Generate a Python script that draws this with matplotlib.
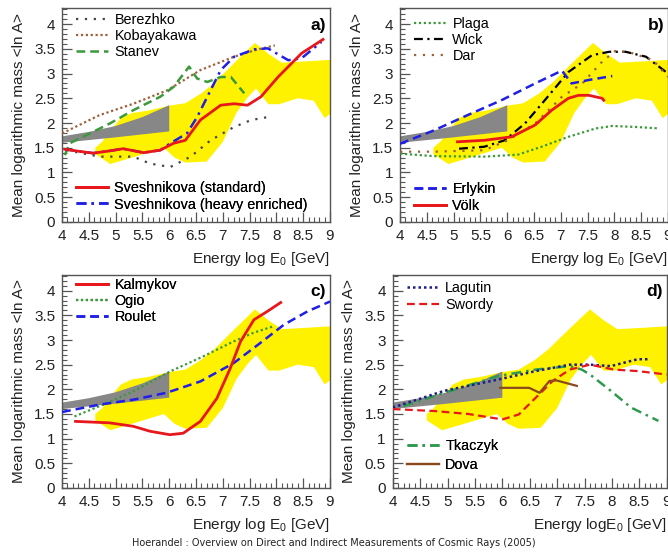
import matplotlib
matplotlib.use("Agg")
import matplotlib.pyplot as plt
from matplotlib.ticker import MultipleLocator, FuncFormatter

plt.rcParams['font.family'] = ['Liberation Sans', 'DejaVu Sans']
plt.rcParams['mathtext.default'] = 'regular'

# experimental band of <ln A> (same in all four panels)
band_up_x = [4.62, 4.75, 4.9, 5.1, 5.3, 5.6, 6.0, 6.3, 6.6, 6.85, 7.2, 7.6, 7.85, 8.1, 8.6, 9.05]
band_up_y = [1.5, 1.62, 1.85, 2.1, 2.2, 2.25, 2.35, 2.4, 2.6, 2.82, 3.2, 3.62, 3.4, 3.22, 3.25, 3.28]
band_lo_x = [9.05, 8.9, 8.7, 8.4, 8.05, 7.85, 7.62, 7.45, 7.25, 7.0, 6.7, 6.3, 6.1, 5.9, 5.3, 4.9, 4.62]
band_lo_y = [2.22, 2.1, 2.45, 2.5, 2.38, 2.38, 2.7, 2.5, 2.2, 1.62, 1.22, 1.2, 1.3, 1.5, 1.3, 1.17, 1.37]

# direct measurements (gray region)
direct_up_x = [4.0, 4.5, 5.0, 5.5, 6.0]
direct_up_y = [1.73, 1.82, 1.94, 2.12, 2.36]
direct_lo_x = [6.0, 5.0, 4.0]
direct_lo_y = [1.83, 1.71, 1.6]

# a) models
berezhko_x = [4.08, 4.7, 5.33, 5.64, 6.02, 6.4, 6.77, 7.21, 7.53, 7.84]
berezhko_y = [1.45, 1.32, 1.32, 1.18, 1.11, 1.32, 1.65, 1.92, 2.06, 2.12]
kobayakawa_x = [4.0, 4.7, 5.33, 5.96, 6.58, 7.21, 7.59, 7.97]
kobayakawa_y = [1.79, 2.16, 2.39, 2.66, 3.07, 3.34, 3.47, 3.57]
stanev_x = [4.05, 4.14, 4.39, 4.89, 5.33, 5.83, 6.08, 6.37, 6.52, 6.71, 6.96, 7.15, 7.4]
stanev_y = [1.35, 1.59, 1.72, 1.99, 2.26, 2.53, 2.73, 3.14, 2.9, 2.83, 2.93, 2.93, 2.6]
svesh_std_x = [4.05, 4.3, 4.58, 4.85, 5.14, 5.52, 5.83, 6.08, 6.3, 6.58, 6.96, 7.21, 7.46, 7.71, 8.03, 8.47, 8.87]
svesh_std_y = [1.47, 1.43, 1.39, 1.43, 1.48, 1.4, 1.45, 1.59, 1.65, 2.06, 2.36, 2.39, 2.36, 2.53, 2.93, 3.41, 3.69]
svesh_heavy_x = [4.05, 4.3, 4.58, 4.85, 5.14, 5.52, 5.83, 6.02, 6.33, 6.52, 6.71, 6.96, 7.21, 7.59, 7.84, 8.22, 8.47, 8.84]
svesh_heavy_y = [1.47, 1.43, 1.39, 1.43, 1.48, 1.4, 1.45, 1.59, 1.79, 2.12, 2.53, 3.07, 3.34, 3.49, 3.51, 3.27, 3.31, 3.64]

# b) models
plaga_x = [4.0, 4.63, 5.57, 6.2, 6.64, 7.14, 7.65, 7.96, 8.4, 8.84]
plaga_y = [1.38, 1.33, 1.32, 1.36, 1.52, 1.72, 1.89, 1.94, 1.92, 1.89]
wick_x = [5.1, 5.57, 5.95, 6.33, 6.7, 7.14, 7.58, 7.9, 8.21, 8.59, 9.0]
wick_y = [1.48, 1.52, 1.65, 1.99, 2.46, 3.03, 3.37, 3.44, 3.44, 3.34, 3.0]
dar_x = [4.0, 4.63, 5.57, 6.01, 6.52, 7.02, 7.4, 7.77, 8.03, 8.34, 8.72, 9.0]
dar_y = [1.42, 1.42, 1.45, 1.65, 1.99, 2.53, 2.8, 3.24, 3.47, 3.41, 3.27, 2.93]
erlykin_x = [4.0, 4.63, 5.26, 5.89, 6.52, 7.02, 7.2, 7.52, 7.96]
erlykin_y = [1.58, 1.85, 2.16, 2.46, 2.8, 3.06, 2.8, 2.87, 2.95]
voelk_x = [5.07, 5.57, 6.08, 6.52, 6.83, 7.14, 7.33, 7.52, 7.77, 7.8]
voelk_y = [1.62, 1.65, 1.72, 1.96, 2.26, 2.5, 2.56, 2.56, 2.5, 2.46]

# c) models
kalmykov_x = [4.25, 4.89, 5.33, 5.64, 6.01, 6.26, 6.58, 6.89, 7.14, 7.33, 7.58, 7.83, 8.08]
kalmykov_y = [1.35, 1.32, 1.25, 1.15, 1.08, 1.11, 1.35, 1.82, 2.43, 2.97, 3.41, 3.58, 3.76]
ogio_x = [4.23, 4.7, 5.33, 6.01, 6.58, 7.2, 7.58, 7.95]
ogio_y = [1.45, 1.66, 1.96, 2.36, 2.64, 2.97, 3.15, 3.28]
roulet_x = [4.0, 4.7, 5.33, 5.95, 6.58, 7.2, 7.7, 8.14, 8.58, 9.0]
roulet_y = [1.54, 1.69, 1.79, 1.93, 2.16, 2.53, 2.94, 3.31, 3.58, 3.78]

# d) models
lagutin_x = [4.0, 4.94, 5.93, 6.61, 7.23, 7.6, 7.98, 8.47, 8.66]
lagutin_y = [1.63, 1.97, 2.2, 2.37, 2.5, 2.5, 2.47, 2.61, 2.61]
swordy_x = [4.0, 4.76, 5.38, 6.0, 6.3, 6.61, 6.92, 7.23, 7.6, 8.04, 8.47, 9.0]
swordy_y = [1.6, 1.56, 1.5, 1.39, 1.49, 1.83, 2.17, 2.4, 2.5, 2.4, 2.37, 2.3]
tkaczyk_x = [4.2, 4.94, 5.93, 6.61, 7.23, 7.45, 7.6, 7.98, 8.35, 8.85]
tkaczyk_y = [1.66, 1.93, 2.27, 2.4, 2.47, 2.4, 2.3, 1.97, 1.63, 1.36]
dova_x = [5.96, 6.49, 6.68, 6.86, 6.99, 7.36]
dova_y = [2.03, 2.03, 1.93, 2.17, 2.18, 2.07]

RED = '#e8171c'
BLUE = '#1f1fe6'
GREEN = '#3a9a3a'
BROWN = '#a0603a'
FRAME = '#555555'


def base_axes(rect, tag, xlabel):
    ax = fig.add_axes(rect)
    ax.fill(band_up_x + band_lo_x, band_up_y + band_lo_y, color='#fff200', lw=0, zorder=1)
    ax.fill(direct_up_x + direct_lo_x, direct_up_y + direct_lo_y, color='#878787', lw=0, zorder=2)
    ax.set_xlim(4, 9)
    ax.set_ylim(0, 4.32)
    ax.xaxis.set_major_locator(MultipleLocator(0.5))
    ax.xaxis.set_minor_locator(MultipleLocator(0.1))
    ax.yaxis.set_major_locator(MultipleLocator(0.5))
    ax.yaxis.set_minor_locator(MultipleLocator(0.1))
    fmt = FuncFormatter(lambda v, p: '%g' % v)
    ax.xaxis.set_major_formatter(fmt)
    ax.yaxis.set_major_formatter(fmt)
    ax.tick_params(which='both', direction='in', colors=FRAME, labelcolor='#222222',
                   labelsize=11, top=False, right=False)
    ax.tick_params(which='major', length=7, width=0.9, pad=5)
    ax.tick_params(which='minor', length=3.5, width=0.8)
    for s in ax.spines.values():
        s.set_color(FRAME)
        s.set_linewidth(1.0)
    ax.set_ylabel('Mean logarithmic mass <ln A>', fontsize=11, color='#222222', labelpad=6)
    ax.set_xlabel(xlabel, fontsize=11, color='#222222', loc='right', labelpad=5)
    ax.text(0.985, 0.955, tag, transform=ax.transAxes, ha='right', va='top',
            fontsize=12.5, fontweight='bold')
    return ax


def add_legend(ax, handles, loc, anchor, spacing=0.15):
    leg = ax.legend(handles=handles, loc=loc, bbox_to_anchor=anchor, frameon=False,
                    fontsize=10.4, handlelength=2.2, handletextpad=0.45,
                    labelspacing=spacing, borderaxespad=0.2)
    ax.add_artist(leg)


fig = plt.figure(figsize=(6.68, 5.52), dpi=100)

xl = 'Energy log E$_0$ [GeV]'

# a)
ax = base_axes([0.093, 0.598, 0.401, 0.387], 'a)', xl)
h1 = ax.plot(berezhko_x, berezhko_y, ls=(0, (1, 3)), color='#444444', lw=1.6, zorder=3, label='Berezhko')[0]
h2 = ax.plot(kobayakawa_x, kobayakawa_y, ls=(0, (1, 1.2)), color=BROWN, lw=1.6, zorder=3, label='Kobayakawa')[0]
h3 = ax.plot(stanev_x, stanev_y, ls=(0, (3.5, 2)), color=GREEN, lw=1.8, zorder=3, label='Stanev')[0]
h5 = ax.plot(svesh_heavy_x, svesh_heavy_y, ls=(0, (4, 2, 1, 2)), color=BLUE, lw=1.8, zorder=4,
             label='Sveshnikova (heavy enriched)')[0]
h4 = ax.plot(svesh_std_x, svesh_std_y, color=RED, lw=2.0, zorder=5, label='Sveshnikova (standard)')[0]
add_legend(ax, [h1, h2, h3], 'upper left', (0.02, 1.02))
add_legend(ax, [h4, h5], 'lower left', (0.02, 0.008))

# b)
ax = base_axes([0.599, 0.598, 0.401, 0.387], 'b)', xl)
h1 = ax.plot(plaga_x, plaga_y, ls=(0, (1, 1.2)), color=GREEN, lw=1.6, zorder=3, label='Plaga')[0]
h2 = ax.plot(wick_x, wick_y, ls=(0, (4, 2, 1, 2)), color='black', lw=1.6, zorder=3, label='Wick')[0]
h3 = ax.plot(dar_x, dar_y, ls=(0, (1, 3)), color=BROWN, lw=1.6, zorder=3, label='Dar')[0]
h4 = ax.plot(erlykin_x, erlykin_y, ls=(0, (3.5, 2)), color=BLUE, lw=1.8, zorder=4, label='Erlykin')[0]
h5 = ax.plot(voelk_x, voelk_y, color=RED, lw=2.0, zorder=5, label='Völk')[0]
add_legend(ax, [h1, h2, h3], 'upper left', (0.02, 1.0))
add_legend(ax, [h4, h5], 'lower left', (0.02, 0.003))

# c)
ax = base_axes([0.093, 0.116, 0.401, 0.386], 'c)', xl)
h1 = ax.plot(kalmykov_x, kalmykov_y, color=RED, lw=2.0, zorder=5, label='Kalmykov')[0]
h2 = ax.plot(ogio_x, ogio_y, ls=(0, (1, 1.2)), color=GREEN, lw=1.6, zorder=3, label='Ogio')[0]
h3 = ax.plot(roulet_x, roulet_y, ls=(0, (3.5, 2)), color=BLUE, lw=1.8, zorder=4, label='Roulet')[0]
add_legend(ax, [h1, h2, h3], 'upper left', (0.02, 1.028))

# d)
ax = base_axes([0.588, 0.116, 0.41, 0.386], 'd)', 'Energy logE$_0$ [GeV]')
h1 = ax.plot(lagutin_x, lagutin_y, ls=(0, (1, 1.2)), color='#1c1c8c', lw=1.8, zorder=4, label='Lagutin')[0]
h2 = ax.plot(swordy_x, swordy_y, ls=(0, (3.5, 2)), color=RED, lw=1.6, zorder=4, label='Swordy')[0]
h3 = ax.plot(tkaczyk_x, tkaczyk_y, ls=(0, (4, 2, 1, 2)), color='#2e9a4e', lw=1.8, zorder=3, label='Tkaczyk')[0]
h4 = ax.plot(dova_x, dova_y, color='#8b4a1e', lw=1.6, zorder=5, label='Dova')[0]
add_legend(ax, [h1, h2], 'upper left', (0.02, 1.01))
add_legend(ax, [h3, h4], 'lower left', (0.02, 0.035), spacing=0.35)

fig.text(0.5, 0.008, 'Hoerandel : Overview on Direct and Indirect Measurements of Cosmic Rays (2005)',
         ha='center', va='bottom', fontsize=7, family='DejaVu Sans', color='#222222')

fig.savefig('out.png', dpi=100)
